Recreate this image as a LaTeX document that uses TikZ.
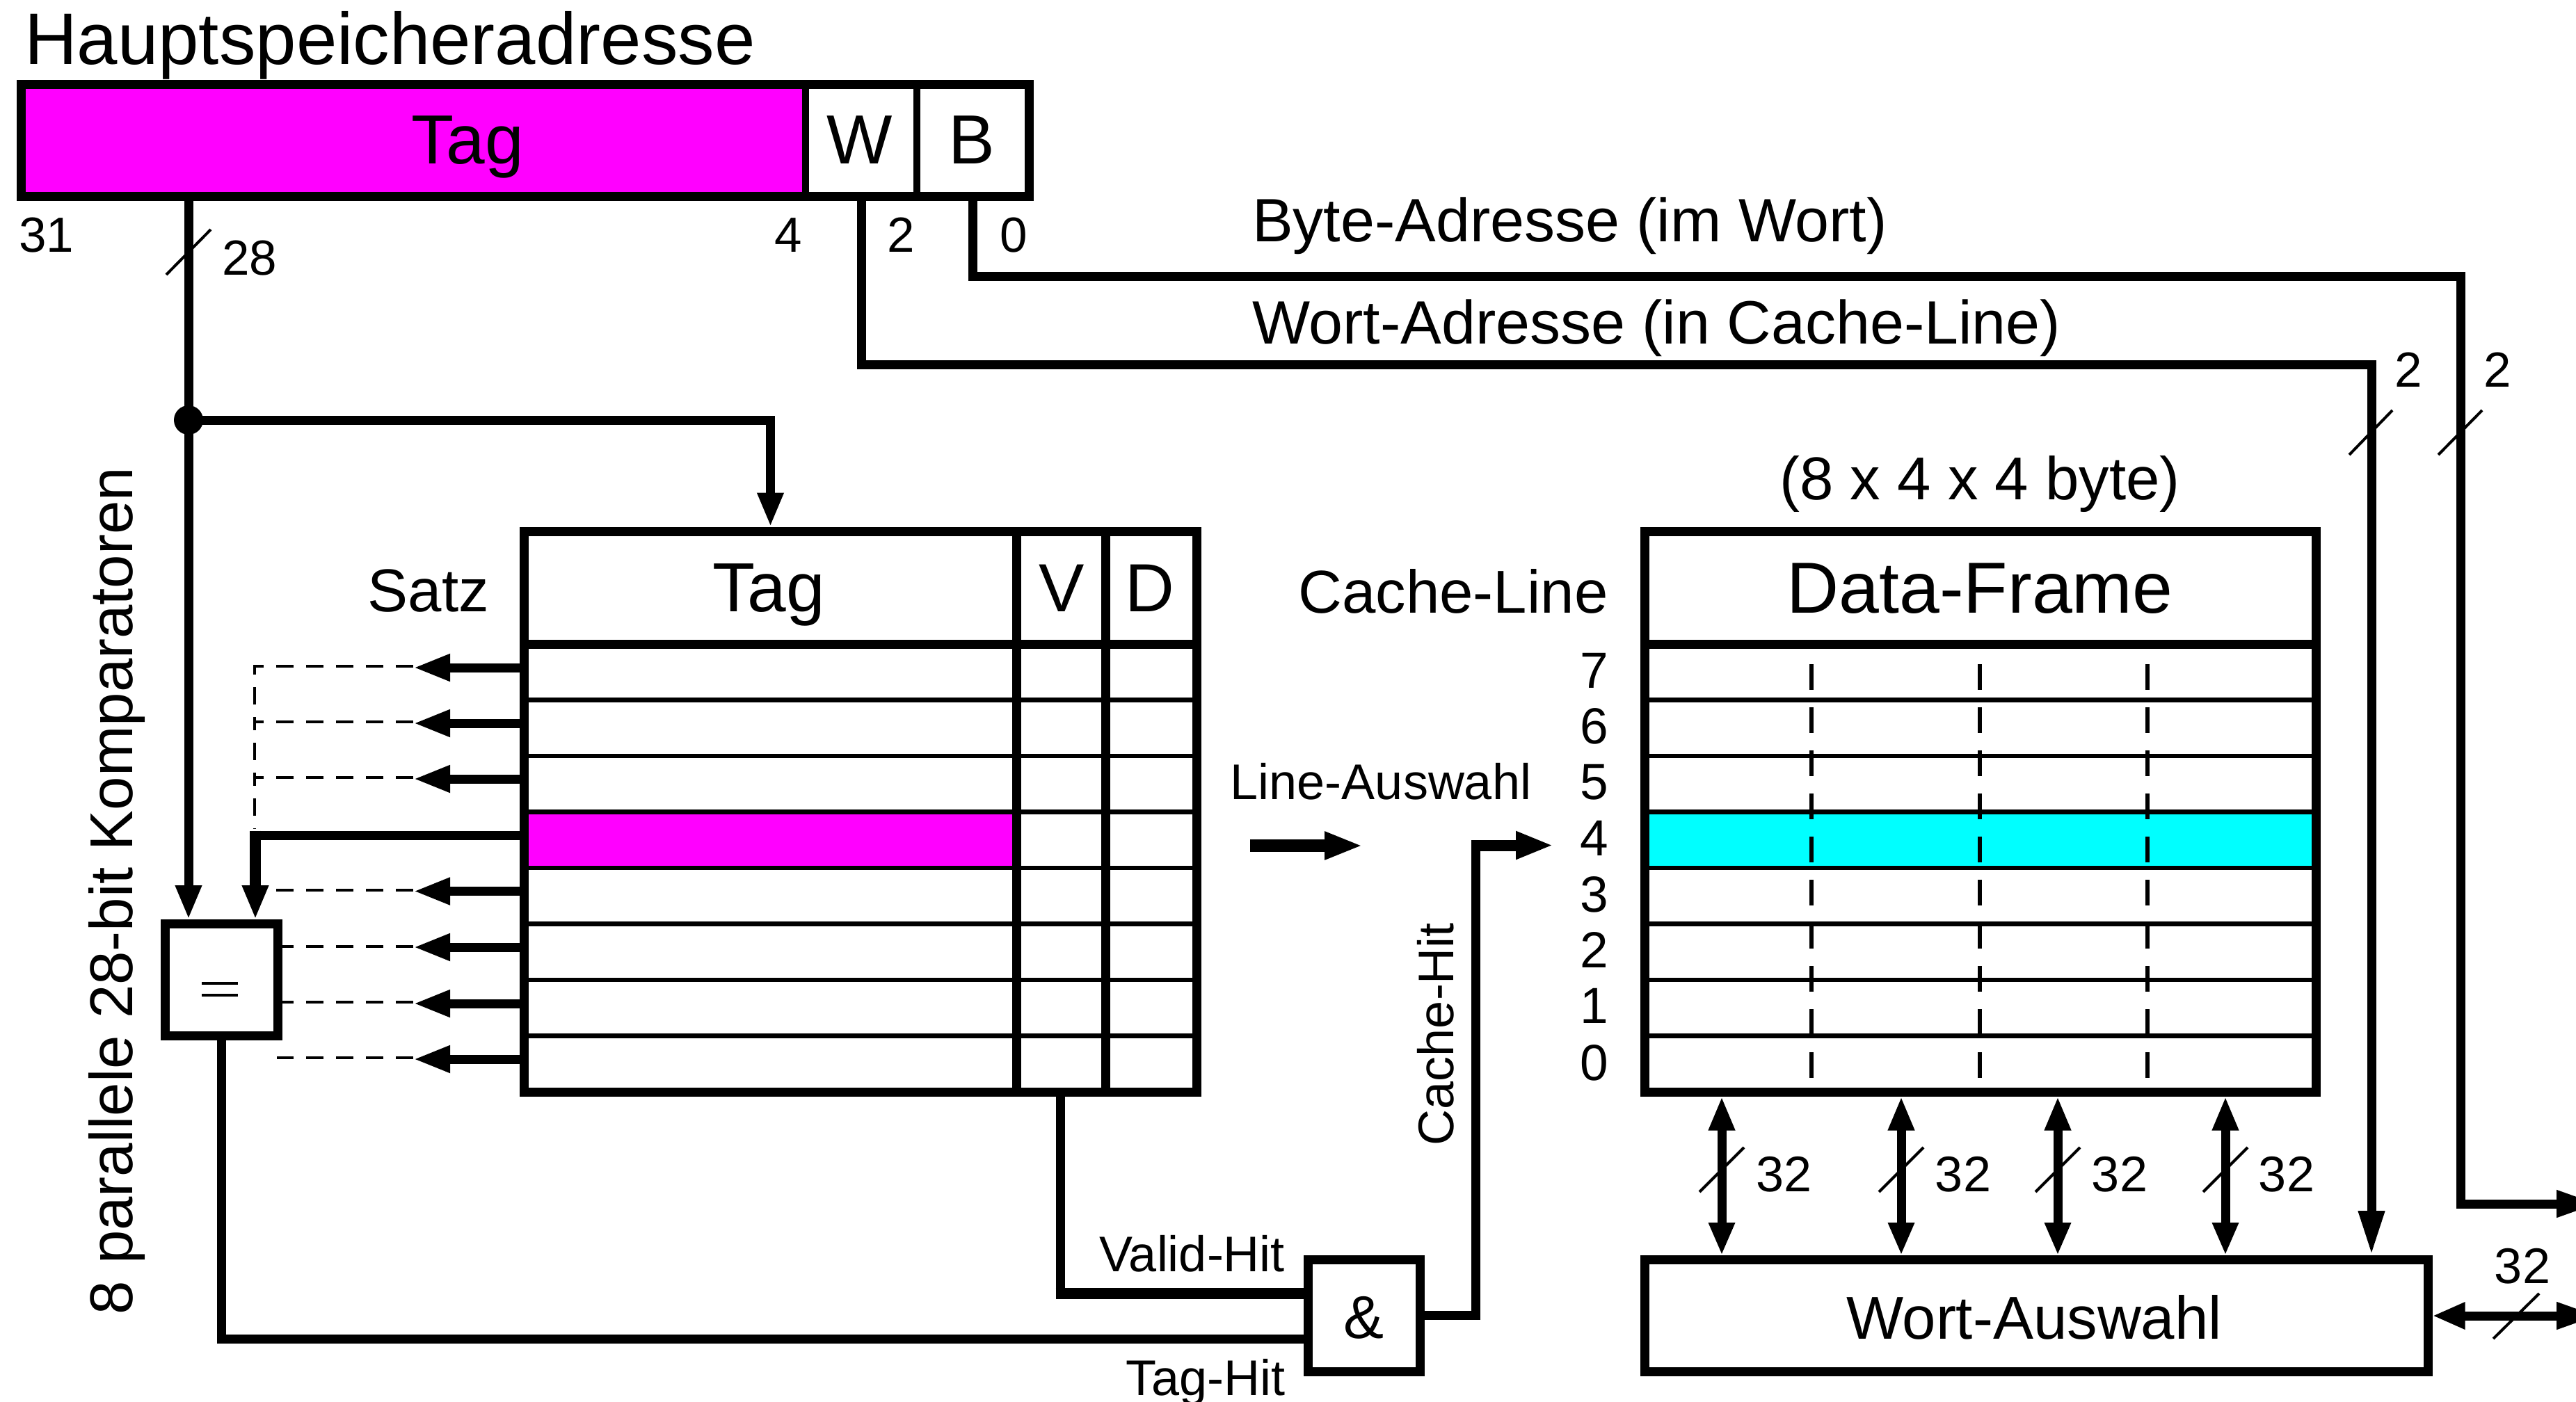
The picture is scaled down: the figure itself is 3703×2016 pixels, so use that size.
\documentclass[tikz,border=0pt]{standalone}
\usepackage{fontspec}
\setmainfont{Liberation Sans}
\usetikzlibrary{arrows.meta,calc}
\newcommand{\fsz}[1]{\fontsize{#1}{#1}\selectfont}
\definecolor{tagmag}{RGB}{255,0,255}
\definecolor{linecyan}{RGB}{0,255,255}
\tikzset{
  box/.style={draw=black,line width=13pt,outer sep=0pt,inner sep=0pt,anchor=north west},
  cell/.style={box,line width=10pt},
  bus/.style={draw=black,line width=13pt,line join=miter},
  rowline/.style={draw=black,line width=6.5pt},
  slash/.style={draw=black,line width=4pt},
  dashline/.style={draw=black,line width=4pt,dash pattern=on 25pt off 18pt},
  wdash/.style={draw=black,line width=5.5pt,dash pattern=on 37pt off 25pt},
  tip/.style={-{Triangle[length=53pt,width=36pt]}},
  tipv/.style={-{Triangle[length=49pt,width=35pt]}},
  biv/.style={{Triangle[length=49pt,width=35pt]}-{Triangle[length=47pt,width=35pt]}},
  txt/.style={inner sep=0pt,outer sep=0pt,anchor=base},
  txtw/.style={inner sep=0pt,outer sep=0pt,anchor=base west},
  txte/.style={inner sep=0pt,outer sep=0pt,anchor=base east},
}
\begin{document}
\begin{tikzpicture}[x=1pt,y=-1pt]
\useasboundingbox (0,0) rectangle (3703,2016);
\fill[white] (0,0) rectangle (3703,2016);

% Hauptspeicheradresse
\node[txtw,font=\fsz{105}] (titel) at (35,92) {Hauptspeicheradresse};
\node[cell,fill=tagmag,minimum width=1128pt,minimum height=161pt] (aTag) at (30,121) {};
\node[cell,minimum width=160pt,minimum height=161pt] (aW) at (1158,121) {};
\node[cell,minimum width=161pt,minimum height=161pt] (aB) at (1318,121) {};
\draw[draw=black,line width=13pt] (aTag.north west) rectangle (aB.south east);
\node[txt,font=\fsz{100}] (aTagT) at (672,235) {Tag};
\node[txt,font=\fsz{100}] (aWT) at (1236,235) {W};
\node[txt,font=\fsz{100}] (aBT) at (1397,235) {B};
\node[txt,font=\fsz{71}] (n31) at (67,362) {31};
\node[txt,font=\fsz{71}] (n4) at (1133,362) {4};
\node[txt,font=\fsz{71}] (n2) at (1295,362) {2};
\node[txt,font=\fsz{71}] (n0) at (1457,362) {0};
\node[txt,font=\fsz{71}] (n28) at (359,395) {28};

% Tag table
\fill[tagmag] (754,1167) rectangle (1462,1248);
\foreach \y in {1006.5,1087,1167.5,1248,1328.5,1409,1489.5} {
  \draw[rowline] (754,\y) -- (1720,\y);
}
\node[box,minimum width=708pt,minimum height=162pt] (tTag) at (753.5,764) {};
\node[box,minimum width=128pt,minimum height=162pt] (tV) at (1461.5,764) {};
\node[box,minimum width=130.5pt,minimum height=162pt] (tD) at (1589.5,764) {};
\draw[draw=black,line width=13pt] (tTag.north west) rectangle (1720,1570) coordinate (tBR);
\coordinate (vB) at (1524,1570);
\draw[draw=black,line width=13pt] (tV.south west) -- (1461.5,1570);
\draw[draw=black,line width=13pt] (tD.south west) -- (1589.5,1570);
\node[txt,font=\fsz{100}] (tTagT) at (1105,879) {Tag};
\node[txt,font=\fsz{98}] (tVT) at (1526,879) {V};
\node[txt,font=\fsz{98}] (tDT) at (1653,879) {D};
\node[txt,font=\fsz{87}] (satz) at (616,879) {Satz};

% Data frame
\fill[linecyan] (2364,1168) rectangle (3329,1248);
\foreach \y in {1006.5,1087,1167.5,1248,1328.5,1409,1489.5} {
  \draw[rowline] (2364,\y) -- (3329,\y);
}
\foreach \x in {2604,2846,3087} {
  \draw[wdash] (\x,955) -- (\x,1568);
}
\node[box,minimum width=965pt,minimum height=162pt] (dHead) at (2364,764) {};
\draw[draw=black,line width=13pt] (dHead.north west) rectangle (3329,1570);
\node[txt,font=\fsz{104}] (dHeadT) at (2846,881) {Data-Frame};
\node[txt,font=\fsz{87}] (dim) at (2846,718) {(8 x 4 x 4 byte)};
\node[txt,font=\fsz{87}] (cline) at (2089,881) {Cache-Line};
\foreach \n/\y in {7/989,6/1069,5/1149,4/1230,3/1311,2/1391,1/1471,0/1553} {
  \node[txt,font=\fsz{73}] (r\n) at (2292,\y) {\n};
}

% Comparator and AND
\node[box,minimum width=161.5pt,minimum height=161pt] (cmp) at (237.5,1328.5) {};
\draw[draw=black,line width=4pt] (290,1414) -- (342,1414) (290,1431) -- (342,1431);
\node[box,minimum width=161pt,minimum height=161pt] (und) at (1880.5,1811.5) {};
\node[txt,font=\fsz{87}] (undT) at (1960,1924) {\&};
\node[box,minimum width=1126pt,minimum height=161pt] (wort) at (2364,1811.5) {};
\node[txt,font=\fsz{87}] (wortT) at (2924,1925) {Wort-Auswahl};

% Tag line with junction
\coordinate (dot) at (271,604);
\draw[bus] (aTag.south -| dot) -- (dot);
\draw[bus,tipv,shorten >=6.5pt] (dot) -- (cmp.north -| dot);
\draw[bus,tipv,shorten >=6.5pt] (dot) -| (tTag.north);
\fill[black] (dot) circle (21pt);
\draw[slash] (239,395) -- (303,330);

% Word and byte address lines
\draw[bus,-{Triangle[length=64pt,width=35pt]},shorten >=6.5pt] (aW.south) |- (3409,524) -- (wort.north -| 3409,0);
\draw[bus,-{Triangle[length=60pt,width=36pt]}] (aB.south) |- (3537.5,397) -- (3537.5,1731) -- (3735,1731);
\node[txtw,font=\fsz{88}] (bLab) at (1800,347) {Byte-Adresse (im Wort)};
\node[txtw,font=\fsz{88}] (wLab) at (1800,494) {Wort-Adresse (in Cache-Line)};
\draw[slash] (3377,654) -- (3439,590);
\draw[slash] (3505,654) -- (3568,590);
\node[txt,font=\fsz{71}] (w2) at (3462,556) {2};
\node[txt,font=\fsz{71}] (b2) at (3590,556) {2};

% Rotated labels
\node[txt,font=\fsz{87},rotate=90] (komp) at (190,1281) {8 parallele 28-bit Komparatoren};
\node[txt,font=\fsz{72},rotate=90] (chit) at (2089,1487) {Cache-Hit};

% Set arrows and dashed feeds
\foreach \i/\ya/\yd in {1/960/958,2/1040/1038,3/1120/1118,5/1281.5/1280,6/1362/1361,7/1443/1441,8/1523/1521} {
  \coordinate (s\i) at (754,\ya);
  \coordinate (e\i) at (594,\yd);
  \draw[bus,tip] (s\i) -- (e\i |- s\i);
}
\draw[dashline] (e1) -- (366,958) -- (366,1038);
\draw[dashline] (e2) -- (366,1038) -- (366,1118);
\draw[dashline] (e3) -- (366,1118) -- (366,1192);
\draw[dashline] (e5) -- (391,1280);
\draw[dashline] (e6) -- (405,1361);
\draw[dashline] (e7) -- (405,1441);
\draw[dashline] (e8) -- (398,1521);
\draw[bus] (754,1201) -- (360.5,1201);
\draw[bus,tipv,line width=16pt,shorten >=6.5pt] (367,1194.5) -- (cmp.north -| 367,0);

% Hit logic
\draw[bus] (cmp.south) |- (und.west |- 0,1925.5);
\coordinate (vC) at (1524,1860);
\draw[bus] (vB) -- ($(vC)+(0,8)$);
\draw[bus,line width=16pt] ($(vC)+(-6.5,0)$) -- (und.west |- vC);
\draw[bus] (und.east |- 0,1891.5) -| (2121.5,1215.5);
\draw[bus,line width=16pt,-{Triangle[length=54pt,width=37pt]}] (2115,1215.5) -- (2233,1215.5);
\node[txte,font=\fsz{72}] (vhit) at (1847,1828) {Valid-Hit};
\node[txte,font=\fsz{72}] (thit) at (1847,2006) {Tag-Hit};
\coordinate (lineA) at (1797,1216);
\coordinate (lineB) at (1959,1216);
\draw[bus,line width=17.5pt,-{Triangle[length=55pt,width=37pt]}] (lineA) -- (lineB);
\node[txt,font=\fsz{72}] (lineT) at (1985,1149) {Line-Auswahl};

% 32-bit buses
\foreach \i/\x/\lx in {1/2475/2564.5,2/2733/2822,3/2958/3047,4/3199/3287} {
  \draw[bus,biv,shorten <=6.5pt,shorten >=6.5pt] (\x,1570) -- (wort.north -| \x,0);
  \draw[slash] (\x-32,1714) -- (\x+32,1650);
  \node[txt,font=\fsz{72}] (lab\i) at (\lx,1713) {32};
}
\draw[bus,{Triangle[length=47pt,width=36pt]}-{Triangle[length=60pt,width=36pt]},shorten <=6.5pt] (wort.east |- 0,1892) -- (3735,1892);
\draw[slash] (3584,1925) -- (3650,1860);
\node[txt,font=\fsz{72}] (lab5) at (3626,1845) {32};
\end{tikzpicture}
\end{document}
